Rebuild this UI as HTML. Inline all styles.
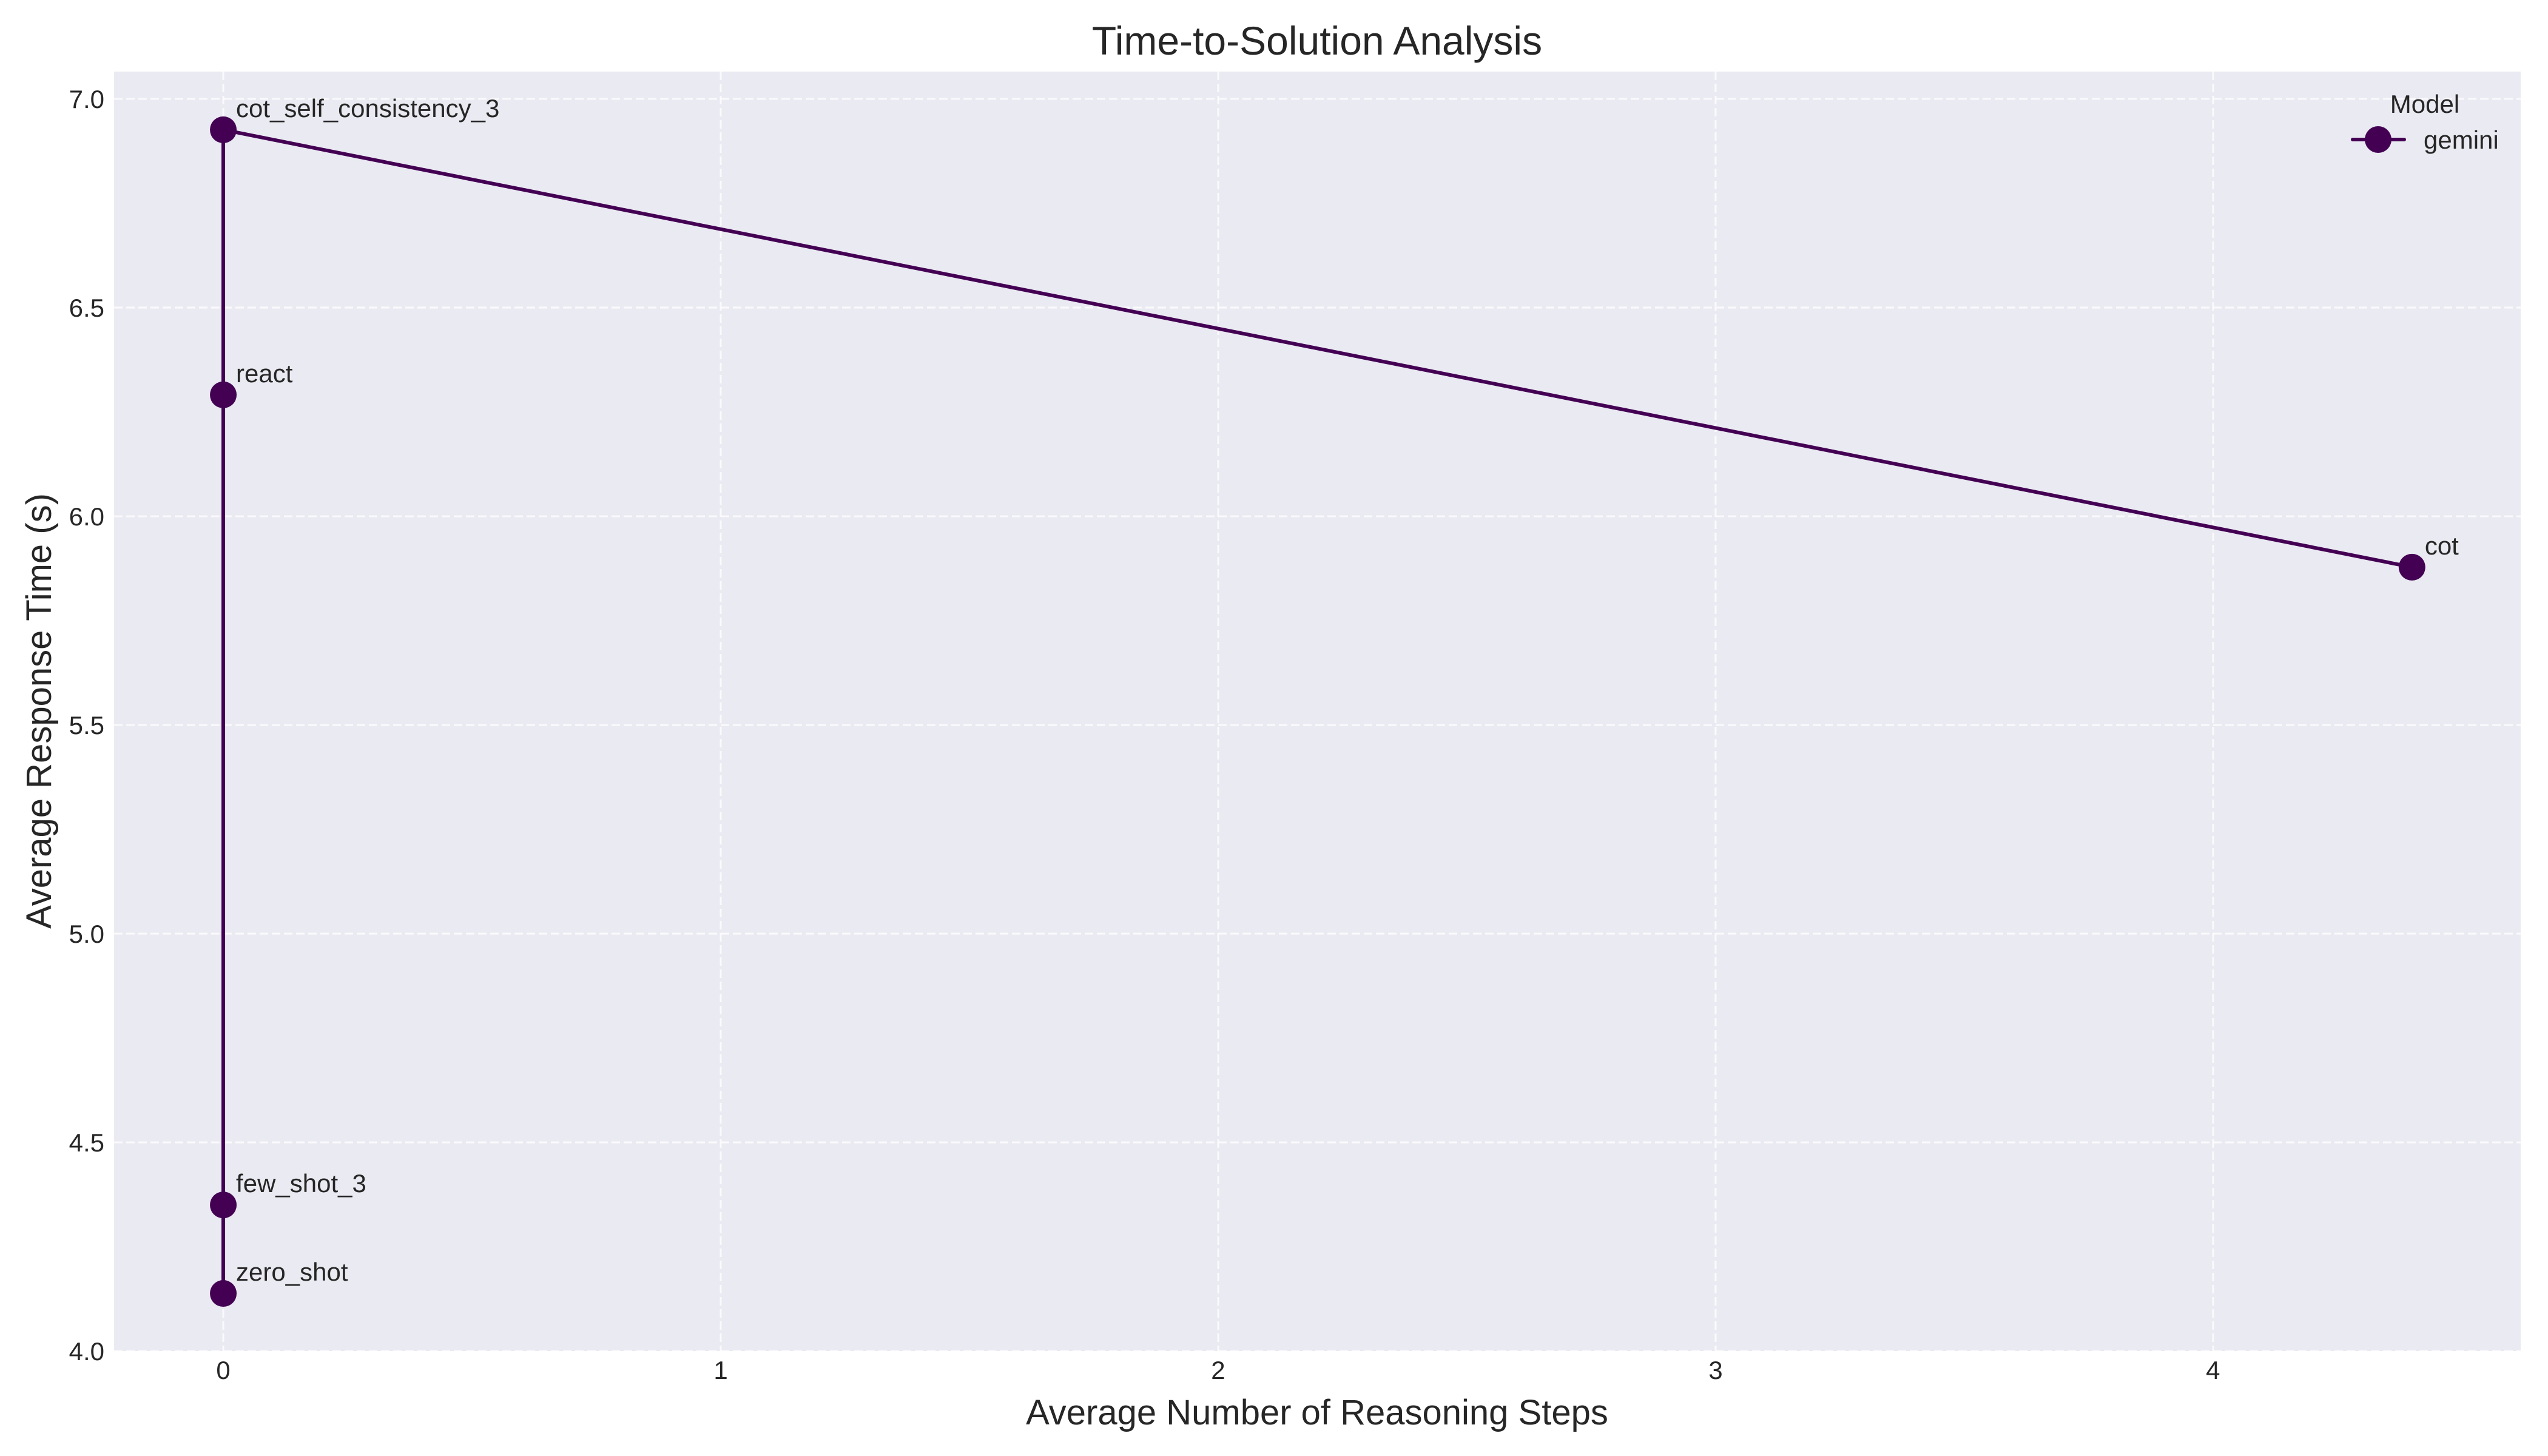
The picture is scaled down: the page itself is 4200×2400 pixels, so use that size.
<!DOCTYPE html>
<html><head><meta charset="utf-8"><style>
html,body{margin:0;padding:0;background:#fff;}
svg{display:block;font-family:"Liberation Sans",Arial,sans-serif;}
</style></head><body>
<svg id="chart" width="4200" height="2400" viewBox="0 0 4200 2400" xmlns="http://www.w3.org/2000/svg">
<rect x="0" y="0" width="4200" height="2400" fill="#ffffff"/>
<rect x="188" y="118" width="3967" height="2109" fill="#eaeaf2"/>
<g id="grid"></g>
<g id="series"></g>
<g id="ticks"></g>
<text x="2171" y="90" font-size="66" text-anchor="middle" fill="#262626">Time-to-Solution Analysis</text>
<text x="2171" y="2348" font-size="58" text-anchor="middle" fill="#262626">Average Number of Reasoning Steps</text>
<text x="0" y="0" transform="translate(84,1172) rotate(-90)" font-size="58" text-anchor="middle" fill="#262626">Average Response Time (s)</text>
<g>
<text x="3997" y="186" font-size="42" text-anchor="middle" fill="#262626">Model</text>
<g>
<line x1="3878" y1="230" x2="3963" y2="230" stroke="#440154" stroke-width="6" stroke-linecap="round"/>
<circle cx="3920" cy="230" r="22" fill="#440154"/>
<text x="3995" y="245" font-size="42" fill="#262626">gemini</text>
</g>
</g>
</svg>
<script>
const categories = ["zero_shot","few_shot_3","cot","cot_self_consistency_3","react"];
const stepsValues = [0, 0, 4.40, 0, 0];
const timeValues = [4.138, 4.350, 5.878, 6.926, 6.291];
const lineOrder = ["zero_shot","few_shot_3","react","cot_self_consistency_3","cot"];
const xTicks = [0,1,2,3,4];
const yTicks = [4.0,4.5,5.0,5.5,6.0,6.5,7.0];
const yTickLabels = ["4.0","4.5","5.0","5.5","6.0","6.5","7.0"];

const NS="http://www.w3.org/2000/svg";
const L=188,R=4155,T=118,B=2227;
const xMin=-0.2196,xMax=4.6185,yMin=4.0,yMax=7.0654;
function xs(v){return L+(v-xMin)/(xMax-xMin)*(R-L);}
function ys(v){return B-(v-yMin)/(yMax-yMin)*(B-T);}
function mk(tag,attrs,parent){const e=document.createElementNS(NS,tag);for(const k in attrs)e.setAttribute(k,attrs[k]);parent.appendChild(e);return e;}
const grid=document.getElementById('grid'),ser=document.getElementById('series'),tk=document.getElementById('ticks');
xTicks.forEach(t=>{
  const g=mk('line',{x1:xs(t),x2:xs(t),y1:T,y2:B,stroke:'#ffffff','stroke-width':3,'stroke-dasharray':'14 6',opacity:0.8},grid);
  
  
  const l=mk('text',{x:xs(t),y:2273,'font-size':42,'text-anchor':'middle',fill:'#262626'},tk);
  l.textContent=String(t);
  
  
});
yTicks.forEach((t,i)=>{
  const g=mk('line',{x1:L,x2:R,y1:ys(t),y2:ys(t),stroke:'#ffffff','stroke-width':3,'stroke-dasharray':'14 6',opacity:0.8},grid);
  
  
  const l=mk('text',{x:172,y:ys(t)+15,'font-size':42,'text-anchor':'end',fill:'#262626'},tk);
  l.textContent=yTickLabels[i];
  
  
});
const pts=lineOrder.map(n=>{const i=categories.indexOf(n);return xs(stepsValues[i])+','+ys(timeValues[i]);}).join(' ');
const pl=mk('polyline',{points:pts,fill:'none',stroke:'#440154','stroke-width':6,'stroke-linejoin':'round'},ser);


categories.forEach((c,i)=>{
  const cx=xs(stepsValues[i]),cy=ys(timeValues[i]);
  const p=mk('circle',{cx:cx,cy:cy,r:22,fill:'#440154'},ser);
  
  
  const t=mk('text',{x:cx+21,y:cy-21,'font-size':42,fill:'#262626'},ser);
  t.textContent=c;
  
  
});
</script>
</body></html>
